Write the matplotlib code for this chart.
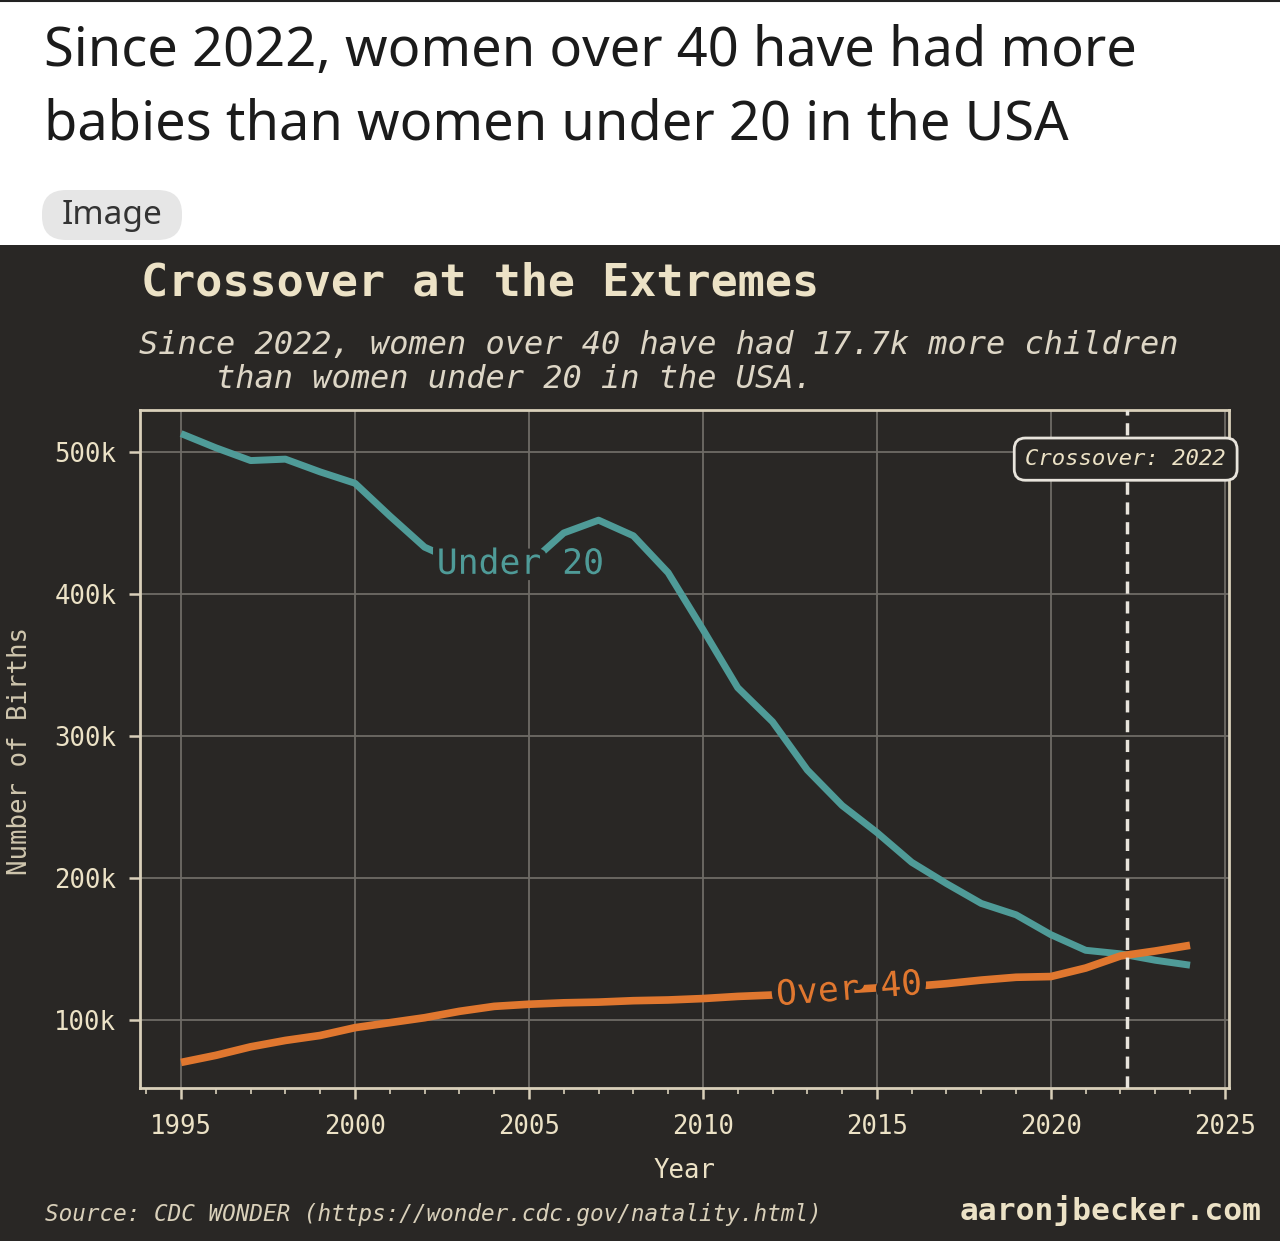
import matplotlib.pyplot as plt
import matplotlib.patheffects as pe
from matplotlib.patches import Rectangle, FancyBboxPatch
from matplotlib.ticker import FuncFormatter, MultipleLocator
import numpy as np

# data (births, thousands)
years = [1995, 1996, 1997, 1998, 1999, 2000, 2001, 2002, 2003, 2004,
         2005, 2006, 2007, 2008, 2009, 2010, 2011, 2012, 2013, 2014,
         2015, 2016, 2017, 2018, 2019, 2020, 2021, 2022, 2023, 2024]
under20 = [513, 503, 494, 495, 486, 478, 455, 433, 422, 422,
           421, 443, 452, 441, 415, 375, 334, 310, 276, 251,
           232, 211, 196, 182, 174, 160, 149, 146.5, 142, 138.5]
over40 = [70, 75, 81, 85.5, 89, 94.5, 98, 101.5, 106, 109.5,
          111, 112, 112.5, 113.5, 114, 115, 116.5, 117.5, 119, 121,
          122.5, 123.5, 125.5, 128, 130, 130.5, 136.5, 145, 148.5, 152.5]

headline = ["Since 2022, women over 40 have had more",
            "babies than women under 20 in the USA"]
title = "Crossover at the Extremes"
subtitle = ("Since 2022, women over 40 have had 17.7k more children\n"
            "    than women under 20 in the USA.")
source = "Source: CDC WONDER (https://wonder.cdc.gov/natality.html)"
site = "aaronjbecker.com"

bg = '#292725'
cream = '#ece2c6'
teal = '#4f9b98'
orange = '#e0772f'
grid_c = '#6e6b66'
mono = 'DejaVu Sans Mono'

years_a = np.array(years, dtype=float)
u = np.array(under20) * 1000
o = np.array(over40) * 1000

# crossover year from linear interpolation of the difference
d = u - o
i = np.where((d[:-1] > 0) & (d[1:] <= 0))[0][0]
cross = years_a[i] + d[i] / (d[i] - d[i + 1])

fig = plt.figure(figsize=(12.8, 12.41), dpi=100)
fig.patch.set_facecolor('white')

# page header
fig.add_artist(plt.Line2D([0, 1], [0.9992, 0.9992], color='#222222', lw=1.5,
                          transform=fig.transFigure))
fig.text(0.0344, 0.9468, headline[0], fontsize=39, family='Noto Sans',
         color='#1b1b1b', va='baseline')
fig.text(0.0344, 0.8872, headline[1], fontsize=39, family='Noto Sans',
         color='#1b1b1b', va='baseline')
fig.add_artist(FancyBboxPatch((42 / 1280, 1 - 240 / 1241), 140 / 1280, 50 / 1241,
                              boxstyle='round,pad=0,rounding_size=0.019',
                              transform=fig.transFigure, fc='#e6e6e6', ec='none'))
fig.text(112 / 1280, 1 - 216 / 1241, "Image", fontsize=24, family='Noto Sans',
         color='#333333', ha='center', va='center')

# dark chart panel
fig.add_artist(Rectangle((0, 0), 1, 1 - 245 / 1241, transform=fig.transFigure,
                         fc=bg, ec='none', zorder=0))

ax = fig.add_axes([140 / 1280, 0.1233, 1089 / 1280, 0.5463])
ax.set_facecolor(bg)

ax.plot(years_a, u, color=teal, lw=5, solid_capstyle='butt', zorder=3)
ax.plot(years_a, o, color=orange, lw=5.5, solid_capstyle='butt', zorder=3)
ax.axvline(cross, color='#e8e4dc', lw=2.5, ls=(0, (3.5, 2.2)), zorder=4)

outline = [pe.withStroke(linewidth=9, foreground=bg)]
ax.text(2004.75, np.interp(2004.75, years_a, u), "Under 20", color=teal,
        fontsize=25, family=mono, ha='center', va='center', zorder=5,
        path_effects=outline)
ax.text(2014.2, np.interp(2014.2, years_a, o), "Over 40", color=orange,
        fontsize=25, family=mono, ha='center', va='center', rotation=4.5,
        rotation_mode='anchor', zorder=5, path_effects=outline)

ax.text(2022.15, 495000, "Crossover: 2022", fontsize=16, family=mono,
        style='italic', color=cream, ha='center', va='center', zorder=6,
        bbox=dict(boxstyle='round,pad=0.5,rounding_size=0.5', fc=bg,
                  ec='#e8e4dc', lw=2))

ax.set_xlim(1993.82, 2025.12)
ax.set_ylim(52000, 529600)
ax.xaxis.set_major_locator(MultipleLocator(5))
ax.xaxis.set_minor_locator(MultipleLocator(1))
ax.yaxis.set_major_locator(MultipleLocator(100000))
ax.yaxis.set_major_formatter(FuncFormatter(lambda v, p: f"{int(v / 1000)}k"))

ax.grid(True, which='major', color=grid_c, lw=1.3, zorder=1)
ax.set_axisbelow(True)
for s in ax.spines.values():
    s.set_color('#d9d0ba')
    s.set_linewidth(2)

ax.tick_params(axis='both', which='major', colors='#d9d0ba', labelcolor=cream,
               length=8, width=1.8, labelsize=18.5, pad=9)
ax.tick_params(axis='x', which='major', pad=11)
ax.tick_params(axis='x', which='minor', colors='#d9d0ba', length=4, width=1.2)
for lab in ax.get_xticklabels() + ax.get_yticklabels():
    lab.set_family(mono)

ax.set_xlabel("Year", fontsize=18.5, family=mono, color=cream, labelpad=13)
fig.text(20 / 1280, 1 - 751 / 1241, "Number of Births", rotation=90,
         fontsize=18.5, family=mono, color='#cfc6ae', ha='center', va='center')

fig.text(141 / 1280, 1 - 283 / 1241, title, fontsize=32.5, family=mono,
         weight='bold', color=cream, va='center')
fig.text(139 / 1280, 1 - 362.5 / 1241, subtitle, fontsize=23, family=mono,
         style='italic', color='#ddd6c6', va='center', linespacing=1.1)

fig.text(45 / 1280, 1 - 1214 / 1241, source, fontsize=16.3, family=mono,
         style='italic', color='#d9d0ba', va='center')
fig.text(1262 / 1280, 1 - 1210 / 1241, site, fontsize=22.5, family=mono,
         weight='bold', color=cream, ha='right', va='center')

fig.savefig('out.png', dpi=100, facecolor=fig.get_facecolor())
